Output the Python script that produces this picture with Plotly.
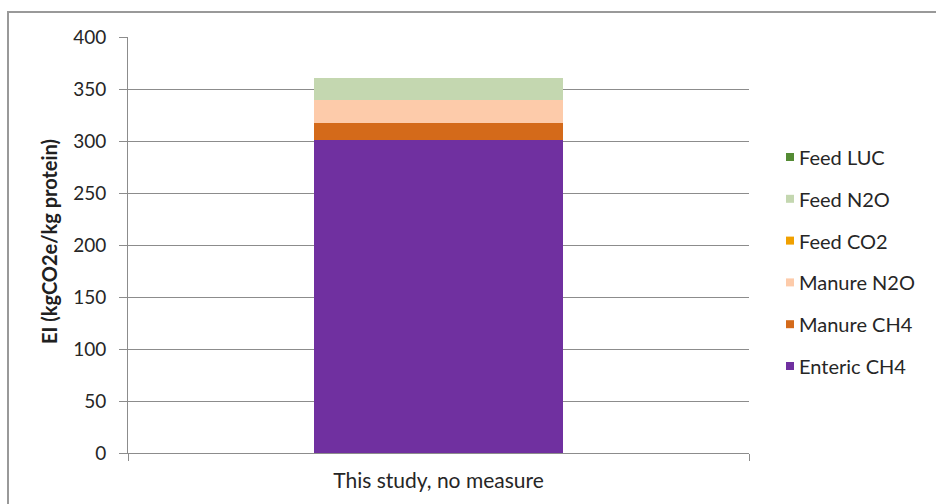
import plotly.graph_objects as go

# Emission intensity breakdown for one scenario (kg CO2e per kg protein)
categories = ["This study, no measure"]
enteric_ch4 = [301.0]
manure_ch4 = [16.5]
manure_n2o = [21.5]
feed_co2 = [0.0]
feed_n2o = [22.0]
feed_luc = [0.0]

series_names = ["Enteric CH4", "Manure CH4", "Manure N2O", "Feed CO2", "Feed N2O", "Feed LUC"]
series_values = [enteric_ch4, manure_ch4, manure_n2o, feed_co2, feed_n2o, feed_luc]
series_colors = ["#7030A0", "#D46A1A", "#FDCBAA", "#F0A000", "#C4D7B0", "#548B34"]

y_ticks = [0, 50, 100, 150, 200, 250, 300, 350, 400]

W, H = 936, 504
L, R, T, B = 128, 749, 37, 453  # plot area in pixels

FONT = "Lato, Open Sans, sans-serif"
GRID = "#8C8C8C"
TEXT = "#262626"
FRAME = "#999999"


def px_x(p):
    return (p - L) / (R - L)


def px_y(p):
    return (B - p) / (B - T)


fig = go.Figure()

for name, vals, color in zip(series_names, series_values, series_colors):
    fig.add_trace(go.Bar(
        x=categories, y=vals, name=name,
        marker=dict(color=color, line=dict(width=0)),
        showlegend=False,
    ))

# Page background is the frame colour; white panels leave only the
# frame's top and left edges showing
for x0, x1, y0, y1 in [(-5, 941, -5, 11), (-5, 7, -5, 509), (9, 941, 13, 509)]:
    fig.add_shape(type="rect", xref="paper", yref="paper", layer="below",
                  x0=px_x(x0), x1=px_x(x1), y0=px_y(y1), y1=px_y(y0),
                  fillcolor="white", line=dict(width=0))

# Legend drawn as swatch + label, top entry is the last series
legend_top, legend_step = 157, 41.8
for k, (name, color) in enumerate(zip(reversed(series_names), reversed(series_colors))):
    yc = legend_top + k * legend_step
    fig.add_shape(type="rect", xref="paper", yref="paper",
                  x0=px_x(786), x1=px_x(794), y0=px_y(yc - 4), y1=px_y(yc + 4),
                  fillcolor=color, line=dict(width=0))
    fig.add_annotation(text=name, xref="paper", yref="paper",
                       x=px_x(797), y=px_y(yc), xanchor="left", yanchor="middle",
                       showarrow=False,
                       font=dict(family=FONT, size=20, color=TEXT))

fig.add_annotation(
    text="<b>EI (kgCO2e/kg protein)</b>", textangle=-90,
    xref="paper", yref="paper", x=px_x(49), y=px_y(242),
    showarrow=False, font=dict(family=FONT, size=20, color="#202020"),
    xanchor="center", yanchor="middle",
)

fig.update_layout(
    width=W, height=H,
    margin=dict(l=L, r=W - R, t=T, b=H - B, pad=0),
    paper_bgcolor=FRAME, plot_bgcolor="white",
    barmode="stack", bargap=0.6,
    font=dict(family=FONT, size=19, color=TEXT),
    showlegend=False,
    xaxis=dict(
        type="category", tickson="boundaries", ticks="outside", ticklen=7,
        tickcolor=GRID, showline=True, linecolor=GRID, linewidth=1,
        showgrid=False, ticklabelstandoff=9,
        tickfont=dict(size=21, color=TEXT),
    ),
    yaxis=dict(
        range=[0, 400], tickvals=y_ticks, ticks="outside", ticklen=8,
        tickcolor=GRID, showline=True, linecolor=GRID, linewidth=1,
        showgrid=True, gridcolor=GRID, gridwidth=1, zeroline=False,
        ticklabelstandoff=9, tickfont=dict(size=19, color=TEXT),
    ),
)

fig.write_html("out.html", config={"displayModeBar": False})
